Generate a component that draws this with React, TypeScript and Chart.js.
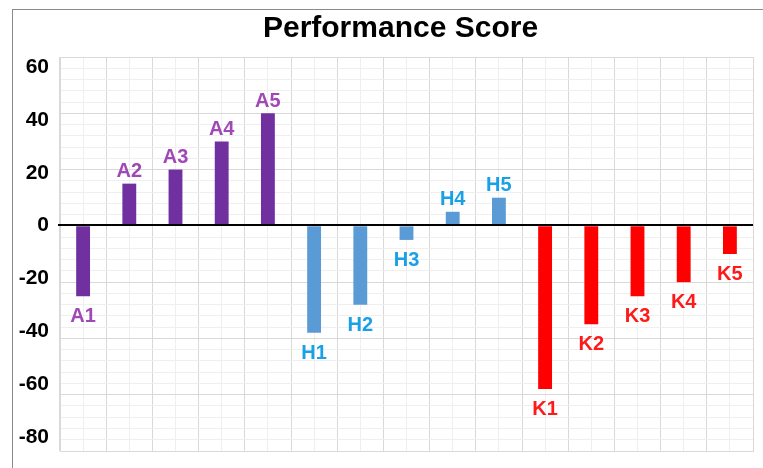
import React, { useEffect, useRef } from 'react';
import { Chart, registerables } from 'chart.js';

Chart.register(...registerables);

const categories = ['A1', 'A2', 'A3', 'A4', 'A5', 'H1', 'H2', 'H3', 'H4', 'H5', 'K1', 'K2', 'K3', 'K4', 'K5'];
const groupAValues = [-25, 15, 20, 30, 40];
const groupHValues = [-38, -28, -5, 5, 10];
const groupKValues = [-58, -35, -25, -20, -10];
const yTickValues = [60, 40, 20, 0, -20, -40, -60, -80];
const yTickLabels = ['60', '40', '20', '0', '-20', '-40', '-60', '-80'];

const values = [...groupAValues, ...groupHValues, ...groupKValues];

const barColors: Record<string, string> = { A: '#7030a0', H: '#5b9bd5', K: '#ff0000' };
const labelColors: Record<string, string> = { A: '#a049b6', H: '#1aa0e6', K: '#ff1a1a' };

const FONT = '"Liberation Sans", Arial, sans-serif';
const MAJOR = '#d9d9d9';
const MINOR = '#efefef';

const CANVAS_W = 811;
const CANVAS_H = 468;

const framePlugin = {
  id: 'frame',
  beforeDraw(chart: any) {
    const ctx = chart.ctx;
    ctx.save();
    ctx.fillStyle = '#ffffff';
    ctx.fillRect(0, 0, chart.width, chart.height);
    ctx.strokeStyle = '#8a8a8a';
    ctx.lineWidth = 1;
    ctx.strokeRect(12.5, 9.5, chart.width + 50, chart.height + 50);
    ctx.restore();
  },
};

const zeroLinePlugin = {
  id: 'zeroLine',
  afterDatasetsDraw(chart: any) {
    const ctx = chart.ctx;
    const y = chart.scales.y.getPixelForValue(0);
    const { left, right } = chart.chartArea;
    ctx.save();
    ctx.strokeStyle = '#000000';
    ctx.lineWidth = 2;
    ctx.beginPath();
    ctx.moveTo(left - 2, Math.round(y) - 1);
    ctx.lineTo(right, Math.round(y) - 1);
    ctx.stroke();
    ctx.restore();
  },
};

const barLabelPlugin = {
  id: 'barLabels',
  afterDatasetsDraw(chart: any) {
    const ctx = chart.ctx;
    const meta = chart.getDatasetMeta(0);
    ctx.save();
    ctx.font = `bold 20px ${FONT}`;
    ctx.textAlign = 'center';
    ctx.textBaseline = 'alphabetic';
    meta.data.forEach((bar: any, i: number) => {
      const v = values[i];
      const label = categories[i];
      ctx.fillStyle = labelColors[label[0]];
      const y = v >= 0 ? bar.y - 6.5 : bar.y + 26;
      ctx.fillText(label, bar.x, y);
    });
    ctx.restore();
  },
};

export default function App() {
  const canvasRef = useRef<HTMLCanvasElement | null>(null);

  useEffect(() => {
    document.body.style.margin = '0';
    const canvas = canvasRef.current;
    if (!canvas) return;
    const chart = new Chart(canvas, {
      type: 'bar',
      data: {
        labels: categories,
        datasets: [
          {
            data: values,
            backgroundColor: categories.map((c) => barColors[c[0]]),
            borderWidth: 0,
            barPercentage: 0.6,
            categoryPercentage: 0.5,
            xAxisID: 'x',
            yAxisID: 'y',
          },
        ],
      },
      options: {
        responsive: false,
        animation: false,
        layout: { padding: { left: 0, right: 10, top: 0, bottom: 17 } },
        plugins: {
          legend: { display: false },
          tooltip: { enabled: false },
          title: {
            display: true,
            text: 'Performance Score',
            color: '#000000',
            font: { family: FONT, size: 30, weight: 'bold' },
            padding: { top: 11, bottom: 10 },
          },
        },
        scales: {
          x: {
            type: 'category',
            offset: true,
            grid: { offset: true, color: MAJOR, drawTicks: false },
            border: { display: true, color: MAJOR },
            ticks: { display: false },
          },
          x2: {
            type: 'category',
            position: 'bottom',
            offset: true,
            grid: { offset: false, color: MINOR, drawTicks: false },
            border: { display: false },
            ticks: { display: false },
          },
          y: {
            type: 'linear',
            position: 'left',
            weight: 0,
            min: -80,
            max: 60,
            ticks: { display: false, stepSize: 4, maxTicksLimit: 100 },
            grid: {
              drawTicks: false,
              color: (ctx: any) => (ctx.tick && Math.round(ctx.tick.value) % 20 === 0 ? MAJOR : MINOR),
            },
            border: { display: true, color: MAJOR },
          },
          yl: {
            type: 'linear',
            position: 'left',
            weight: 1,
            min: -85.3,
            max: 63.78,
            grid: { display: false, drawTicks: false },
            border: { display: false },
            afterBuildTicks: (axis: any) => {
              axis.ticks = yTickValues.map((v) => ({ value: v }));
            },
            afterFit: (axis: any) => {
              axis.width = 60;
              axis.paddingTop = 0;
              axis.paddingBottom = 0;
            },
            ticks: {
              color: '#000000',
              padding: 11,
              font: { family: FONT, size: 21, weight: 'bold' },
              callback: (_v: any, i: number) => yTickLabels[i],
            },
          },
          yr: {
            type: 'linear',
            position: 'right',
            min: 0,
            max: 1,
            grid: { display: false, drawTicks: false },
            border: { display: false },
            ticks: { display: false },
            afterFit: (axis: any) => {
              axis.width = 48;
              axis.paddingTop = 0;
              axis.paddingBottom = 0;
            },
          },
        },
      },
      plugins: [framePlugin, zeroLinePlugin, barLabelPlugin],
    } as any);
    return () => chart.destroy();
  }, []);

  return (
    <div style={{ position: 'fixed', left: 0, top: 0, width: 763, height: 468, overflow: 'hidden' }}>
      <canvas ref={canvasRef} width={CANVAS_W} height={CANVAS_H} style={{ display: 'block' }} />
    </div>
  );
}
